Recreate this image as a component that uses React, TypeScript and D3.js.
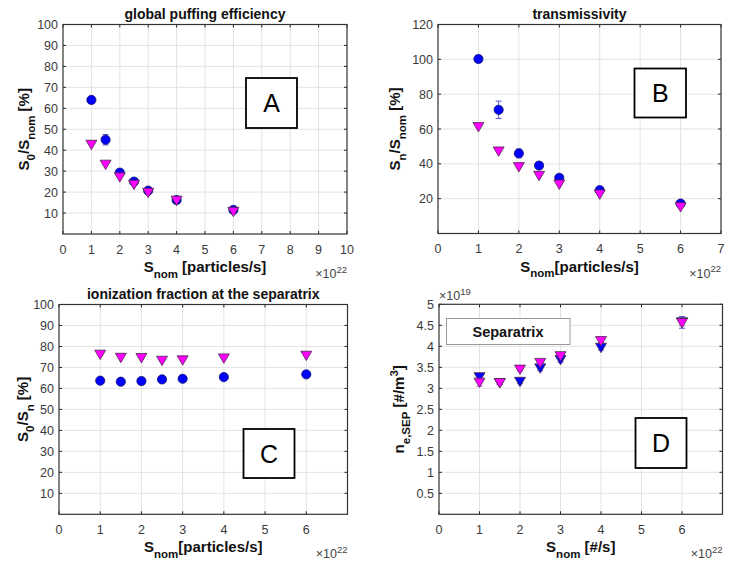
import React from 'react';
import * as d3 from 'd3';

// ---------- data ----------
const sNom = [1, 1.5, 2, 2.5, 3, 4, 6];

const effCircle = [64, 45, 29.3, 25, 20.7, 16.2, 11.5];
const effCircleErr = [0.6, 2.5, 0.8, 0.6, 0.5, 0.4, 0.4];
const effTri = [42.5, 33, 27, 23.4, 19.6, 15.8, 10.5];

const transCircle = [100.2, 71, 46, 39, 32, 24.9, 17.2];
const transCircleErr = [1.5, 5, 2.5, 1, 0.8, 0.8, 0.8];
const transTri = [61, 47, 38, 33, 28, 22.3, 15];

const ionCircle = [63.7, 63.2, 63.5, 64.3, 64.6, 65.4, 66.7];
const ionTri = [76, 74.5, 74.4, 73.1, 73.3, 74.2, 75.5];

const neBlue = [3.26, 3.12, 3.15, 3.47, 3.67, 3.96, 4.57];
const neBlueErr = [0.05, 0.03, 0.04, 0.05, 0.05, 0.05, 0.14];
const neMag = [3.13, 3.12, 3.44, 3.6, 3.76, 4.12, 4.55];
const neMagErr = [0.08, 0.03, 0.03, 0.03, 0.03, 0.03, 0.06];

const ticksA_x = [0, 1, 2, 3, 4, 5, 6, 7, 8, 9, 10];
const ticksB_x = [0, 1, 2, 3, 4, 5, 6, 7];
const ticksCD_x = [0, 1, 2, 3, 4, 5, 6];
const ticksPct = [10, 20, 30, 40, 50, 60, 70, 80, 90, 100];
const ticksTrans = [20, 40, 60, 80, 100, 120];
const ticksNe = [0.5, 1, 1.5, 2, 2.5, 3, 3.5, 4, 4.5, 5];

type Part = { t: string; sub?: boolean; sup?: boolean };

const FONT = "'Liberation Sans', Arial, Helvetica, sans-serif";
const AX = '#262626';
const BLUE = '#0000ff';
const MAG = '#ff00ff';

function Rich({ parts, size, subSize }: { parts: Part[]; size: number; subSize: number }) {
  let shift = 0;
  const out: any[] = [];
  parts.forEach((p, i) => {
    const target = p.sub ? size * 0.38 : p.sup ? -size * 0.42 : 0;
    const dy = target - shift;
    shift = target;
    out.push(
      <tspan key={i} dy={dy} fontSize={p.sub || p.sup ? subSize : size}>
        {p.t}
      </tspan>
    );
  });
  return <>{out}</>;
}

type Series = {
  y: number[];
  err?: number[];
  shape: 'circle' | 'tri';
  color: string;
  errColor?: string;
};

type PanelProps = {
  x0: number; x1: number; y0: number; y1: number;
  xDomain: [number, number]; yDomain: [number, number];
  xTicks: number[]; yTicks: number[];
  title?: string;
  xLabel: Part[]; yLabel: Part[];
  yLabelX: number;
  series: Series[];
  letter: string;
  box: [number, number, number, number];
  yExp?: boolean;
};

function Panel(p: PanelProps) {
  const xs = d3.scaleLinear().domain(p.xDomain).range([p.x0, p.x1]);
  const ys = d3.scaleLinear().domain(p.yDomain).range([p.y1, p.y0]);
  const tl = 3;
  const cx = (p.x0 + p.x1) / 2;
  const cy = (p.y0 + p.y1) / 2;
  const tri = (x: number, y: number) => {
    const w = 5.5, h = 4.7;
    return `M${x - w},${y - h}L${x + w},${y - h}L${x},${y + h}Z`;
  };
  return (
    <g>
      <rect x={p.x0} y={p.y0} width={p.x1 - p.x0} height={p.y1 - p.y0} fill="#fff" />
      {/* grid */}
      {p.xTicks.filter(t => t > p.xDomain[0] && t < p.xDomain[1]).map(t => (
        <line key={'gx' + t} x1={xs(t)} x2={xs(t)} y1={p.y0} y2={p.y1} stroke="#e3e3e3" strokeWidth={1} />
      ))}
      {p.yTicks.filter(t => t > p.yDomain[0] && t < p.yDomain[1]).map(t => (
        <line key={'gy' + t} x1={p.x0} x2={p.x1} y1={ys(t)} y2={ys(t)} stroke="#e3e3e3" strokeWidth={1} />
      ))}
      {/* ticks */}
      {p.xTicks.map(t => (
        <g key={'tx' + t}>
          <line x1={xs(t)} x2={xs(t)} y1={p.y1} y2={p.y1 - tl} stroke={AX} strokeWidth={1} />
          <line x1={xs(t)} x2={xs(t)} y1={p.y0} y2={p.y0 + tl} stroke={AX} strokeWidth={1} />
          <text x={xs(t)} y={p.y1 + 19.5} textAnchor="middle" fontSize={12.5} fill="#3a3a3a" fontFamily={FONT}>{t}</text>
        </g>
      ))}
      {p.yTicks.map(t => (
        <g key={'ty' + t}>
          <line x1={p.x0} x2={p.x0 + tl} y1={ys(t)} y2={ys(t)} stroke={AX} strokeWidth={1} />
          <line x1={p.x1} x2={p.x1 - tl} y1={ys(t)} y2={ys(t)} stroke={AX} strokeWidth={1} />
          <text x={p.x0 - 5} y={ys(t) + 4.5} textAnchor="end" fontSize={12.5} fill="#3a3a3a" fontFamily={FONT}>{t}</text>
        </g>
      ))}
      {/* data */}
      {p.series.map((s, si) => (
        <g key={'s' + si}>
          {s.err && s.y.map((v, i) => {
            const x = xs(sNom[i]);
            const ya = ys(v + s.err![i]);
            const yb = ys(v - s.err![i]);
            return (
              <g key={'e' + i} stroke={s.errColor || '#4444cc'} strokeWidth={0.9}>
                <line x1={x} x2={x} y1={ya} y2={yb} />
                <line x1={x - 3} x2={x + 3} y1={ya} y2={ya} />
                <line x1={x - 3} x2={x + 3} y1={yb} y2={yb} />
              </g>
            );
          })}
          {s.y.map((v, i) =>
            s.shape === 'circle' ? (
              <circle key={'m' + i} cx={xs(sNom[i])} cy={ys(v)} r={4.6} fill={s.color} stroke="#10106a" strokeWidth={0.8} />
            ) : (
              <path key={'m' + i} d={tri(xs(sNom[i]), ys(v))} fill={s.color} stroke="#4a2a4a" strokeWidth={0.8} />
            )
          )}
        </g>
      ))}
      {/* frame */}
      <rect x={p.x0} y={p.y0} width={p.x1 - p.x0} height={p.y1 - p.y0} fill="none" stroke="#333" strokeWidth={1.2} />
      {/* letter box */}
      <rect x={p.box[0]} y={p.box[1]} width={p.box[2]} height={p.box[3]} fill="#fff" stroke="#000" strokeWidth={1.8} />
      <text x={p.box[0] + p.box[2] / 2} y={p.box[1] + p.box[3] / 2 + 9} textAnchor="middle" fontSize={25} fill="#000" fontFamily={FONT}>{p.letter}</text>
      {/* title */}
      {p.title && (
        <text x={cx} y={p.y0 - 6} textAnchor="middle" fontSize={14} fontWeight="bold" fill="#111" fontFamily={FONT}>{p.title}</text>
      )}
      {/* x label */}
      <text x={cx} y={p.y1 + 38} textAnchor="middle" fontWeight="bold" fill="#111" fontFamily={FONT}>
        <Rich parts={p.xLabel} size={15} subSize={11.5} />
      </text>
      <text x={p.x1} y={p.y1 + 44} textAnchor="end" fill="#444" fontFamily={FONT} fontSize={12.5}>
        <Rich parts={[{ t: '×10' }, { t: '22', sup: true }]} size={12.5} subSize={9.5} />
      </text>
      {p.yExp && (
        <text x={p.x0} y={p.y0 - 4.5} textAnchor="start" fill="#444" fontFamily={FONT} fontSize={12.5}>
          <Rich parts={[{ t: '×10' }, { t: '19', sup: true }]} size={12.5} subSize={9.5} />
        </text>
      )}
      {/* y label */}
      <text transform={`translate(${p.yLabelX},${cy}) rotate(-90)`} textAnchor="middle" fontWeight="bold" fill="#111" fontFamily={FONT}>
        <Rich parts={p.yLabel} size={15} subSize={11.5} />
      </text>
    </g>
  );
}

export default function App() {
  return (
    <svg width={742} height={562} style={{ position: 'absolute', left: 0, top: 0, background: '#fff' }}>
      <rect width={742} height={562} fill="#fff" />
      <Panel
        x0={63} x1={347} y0={24.5} y1={234}
        xDomain={[0, 10]} yDomain={[0, 100]}
        xTicks={ticksA_x} yTicks={ticksPct}
        title="global puffing efficiency"
        xLabel={[{ t: 'S' }, { t: 'nom', sub: true }, { t: ' [particles/s]' }]}
        yLabel={[{ t: 'S' }, { t: '0', sub: true }, { t: '/S' }, { t: 'nom', sub: true }, { t: ' [%]' }]}
        yLabelX={29}
        series={[
          { y: effCircle, err: effCircleErr, shape: 'circle', color: BLUE },
          { y: effTri, shape: 'tri', color: MAG },
        ]}
        letter="A" box={[246, 78, 51, 50]}
      />
      <Panel
        x0={438} x1={721} y0={24.5} y1={233.5}
        xDomain={[0, 7]} yDomain={[0, 120]}
        xTicks={ticksB_x} yTicks={ticksTrans}
        title="transmissivity"
        xLabel={[{ t: 'S' }, { t: 'nom', sub: true }, { t: '[particles/s]' }]}
        yLabel={[{ t: 'S' }, { t: 'n', sub: true }, { t: '/S' }, { t: 'nom', sub: true }, { t: ' [%]' }]}
        yLabelX={400}
        series={[
          { y: transCircle, err: transCircleErr, shape: 'circle', color: BLUE },
          { y: transTri, shape: 'tri', color: MAG },
        ]}
        letter="B" box={[634.5, 68.5, 51.5, 49]}
      />
      <Panel
        x0={59} x1={347.5} y0={304.5} y1={514.3}
        xDomain={[0, 7]} yDomain={[0, 100]}
        xTicks={ticksCD_x} yTicks={ticksPct}
        title="ionization fraction at the separatrix"
        xLabel={[{ t: 'S' }, { t: 'nom', sub: true }, { t: '[particles/s]' }]}
        yLabel={[{ t: 'S' }, { t: '0', sub: true }, { t: '/S' }, { t: 'n', sub: true }, { t: ' [%]' }]}
        yLabelX={28}
        series={[
          { y: ionCircle, shape: 'circle', color: BLUE },
          { y: ionTri, shape: 'tri', color: MAG },
        ]}
        letter="C" box={[243.5, 429, 51, 49]}
      />
      <Panel
        x0={439} x1={722.5} y0={304.3} y1={514.3}
        xDomain={[0, 7]} yDomain={[0, 5]}
        xTicks={ticksCD_x} yTicks={ticksNe}
        xLabel={[{ t: 'S' }, { t: 'nom', sub: true }, { t: ' [#/s]' }]}
        yLabel={[{ t: 'n' }, { t: 'e,SEP', sub: true }, { t: ' [#/m' }, { t: '3', sup: true }, { t: ']' }]}
        yLabelX={404}
        series={[
          { y: neBlue, err: neBlueErr, shape: 'tri', color: BLUE },
          { y: neMag, err: neMagErr, shape: 'tri', color: MAG, errColor: '#aa44cc' },
        ]}
        letter="D" box={[635.5, 418, 51, 50]}
        yExp
      />
      <rect x={446.5} y={318.5} width={123.5} height={26} fill="#fff" stroke="#999" strokeWidth={1} />
      <text x={508} y={337} textAnchor="middle" fontSize={14.5} fontWeight="bold" fill="#111" fontFamily={FONT}>Separatrix</text>
    </svg>
  );
}
